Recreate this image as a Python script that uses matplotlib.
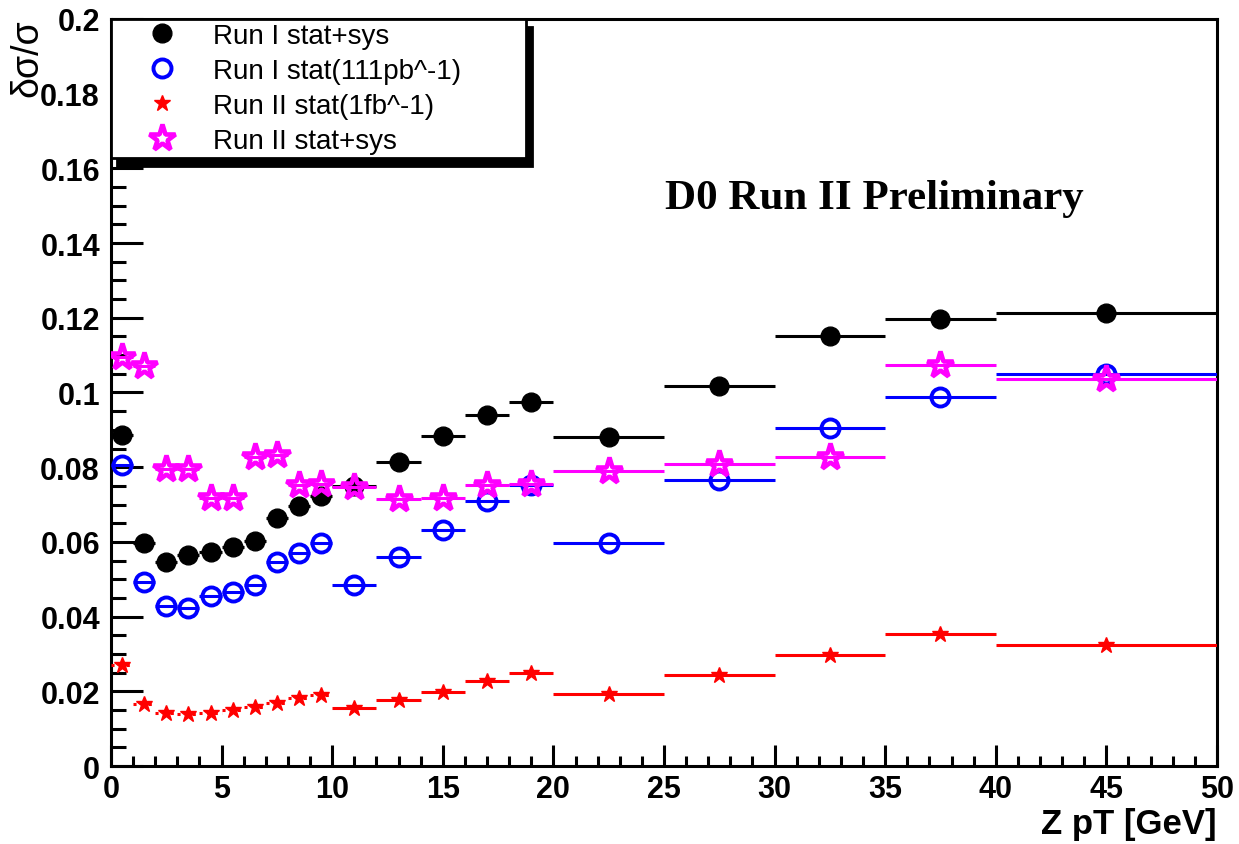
import numpy as np
import matplotlib.pyplot as plt
from matplotlib.lines import Line2D
from matplotlib.ticker import MultipleLocator, FuncFormatter

# bin centres and half widths in Z pT [GeV]
pt = [0.5, 1.5, 2.5, 3.5, 4.5, 5.5, 6.5, 7.5, 8.5, 9.5,
      11, 13, 15, 17, 19,
      22.5, 27.5, 32.5, 37.5, 45]
half_width = [0.5] * 10 + [1.0] * 5 + [2.5] * 4 + [5.0]

# relative uncertainties
run1_statsys = [0.0886, 0.0598, 0.0545, 0.0565, 0.0574, 0.0587, 0.0602, 0.0665, 0.0696, 0.0723,
                0.0749, 0.0814, 0.0883, 0.0939, 0.0974,
                0.0880, 0.1017, 0.1150, 0.1197, 0.1214]
run1_stat = [0.0807, 0.0493, 0.0429, 0.0422, 0.0454, 0.0466, 0.0484, 0.0545, 0.0571, 0.0598,
             0.0484, 0.0560, 0.0631, 0.0709, 0.0751,
             0.0597, 0.0765, 0.0905, 0.0989, 0.1050]
run2_stat = [0.0271, 0.0167, 0.0143, 0.0139, 0.0141, 0.0150, 0.0157, 0.0168, 0.0182, 0.0191,
             0.0154, 0.0176, 0.0197, 0.0227, 0.0249,
             0.0193, 0.0243, 0.0296, 0.0353, 0.0324]
run2_statsys = [0.1096, 0.1070, 0.0796, 0.0796, 0.0718, 0.0718, 0.0828, 0.0832, 0.0751, 0.0754,
                0.0746, 0.0714, 0.0718, 0.0751, 0.0756,
                0.0790, 0.0809, 0.0828, 0.1073, 0.1037]

labels = ["Run I stat+sys", "Run I stat(111pb^-1)", "Run II stat(1fb^-1)", "Run II stat+sys"]

plt.rcParams['font.family'] = ['Liberation Sans', 'DejaVu Sans']

fig = plt.figure(figsize=(12.39, 8.45), dpi=100)
ax = fig.add_axes([0.0896, 0.0923, 0.8926, 0.8841])

pt = np.array(pt)
half_width = np.array(half_width)

lw = 2.2
# Run I stat+sys
ax.errorbar(pt, run1_statsys, xerr=half_width, fmt='o', color='black', ms=13.5,
            elinewidth=lw, capsize=0, zorder=3)
# Run I stat
ax.errorbar(pt, run1_stat, xerr=half_width, fmt='o', color='blue', mfc='none', ms=13,
            mew=2.8, elinewidth=lw, capsize=0, zorder=4)
# Run II stat: dotted bars in the 1 GeV bins
low = pt < 10
eb = ax.errorbar(pt[low], np.array(run2_stat)[low], xerr=half_width[low], fmt='*', color='red',
                 ms=12, elinewidth=lw, capsize=0, zorder=5)
eb[2][0].set_linestyle((0, (1, 1.5)))
ax.errorbar(pt[~low], np.array(run2_stat)[~low], xerr=half_width[~low], fmt='*', color='red',
            ms=12, elinewidth=lw, capsize=0, zorder=5)
# Run II stat+sys
ax.errorbar(pt, run2_statsys, xerr=half_width, fmt='*', color='magenta', mfc='none', ms=20,
            mew=3.3, elinewidth=lw, capsize=0, zorder=6)

ax.set_xlim(0, 50)
ax.set_ylim(0, 0.2)
ax.xaxis.set_major_locator(MultipleLocator(5))
ax.xaxis.set_minor_locator(MultipleLocator(1))
ax.yaxis.set_major_locator(MultipleLocator(0.02))
ax.yaxis.set_minor_locator(MultipleLocator(0.005))
ax.yaxis.set_major_formatter(FuncFormatter(lambda v, p: '%g' % round(v, 3)))

ax.tick_params(axis='both', which='both', direction='in', top=False, right=False, width=2.2)
ax.tick_params(axis='y', which='major', length=23, pad=8, labelsize=22)
ax.tick_params(axis='y', which='minor', length=11)
ax.tick_params(axis='x', which='major', length=15, pad=6, labelsize=22)
ax.tick_params(axis='x', which='minor', length=7)
for t in ax.get_xticklabels() + ax.get_yticklabels():
    t.set_fontweight('bold')
for s in ax.spines.values():
    s.set_linewidth(2.2)

ax.set_xlabel("Z pT [GeV]", loc='right', fontsize=25, fontweight='bold', labelpad=2)
fig.text(0.022, 0.931, "δσ/σ", rotation=90, fontsize=27, ha='center', va='center')

ax.text(25.05, 0.1495, "D0 Run II Preliminary", fontsize=31, fontweight='bold',
        family=['Liberation Serif', 'DejaVu Serif'], va='baseline', ha='left')

handles = [
    Line2D([], [], ls='none', marker='o', color='black', ms=13.5),
    Line2D([], [], ls='none', marker='o', color='blue', mfc='none', ms=13, mew=2.8),
    Line2D([], [], ls='none', marker='*', color='red', ms=12),
    Line2D([], [], ls='none', marker='*', color='magenta', mfc='none', ms=20, mew=3.3),
]
leg = ax.legend(handles, labels, loc='upper left', bbox_to_anchor=(0, 0.0, 0.3752, 1.0),
                mode='expand', borderaxespad=0, fontsize=20, frameon=True, fancybox=False,
                handlelength=3.35, handletextpad=0.18, borderpad=0.15, labelspacing=0.32,
                shadow={'ox': 4, 'oy': -6, 'facecolor': 'black', 'edgecolor': 'black', 'alpha': 1})
leg.get_frame().set_edgecolor('black')
leg.get_frame().set_linewidth(2.0)
leg.get_frame().set_alpha(1)
leg.set_zorder(10)

plt.savefig("out.png", dpi=100)
